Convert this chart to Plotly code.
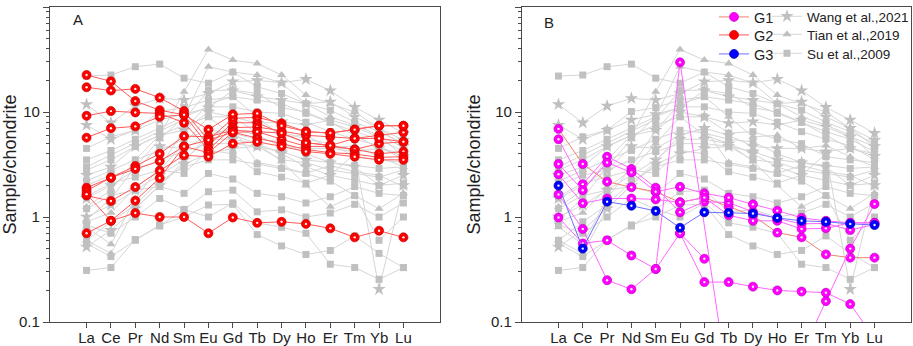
import plotly.graph_objects as go

ree = ["La", "Ce", "Pr", "Nd", "Sm", "Eu", "Gd", "Tb", "Dy", "Ho", "Er", "Tm", "Yb", "Lu"]

# Literature data (grey background, same in both panels)
wang_2021 = [
    [11.8, 7.9, 11.4, 13.5, 13.0, 15.0, 19.4, 20.0, 19.0, 20.5, 16.0, 11.1, 8.4, 6.3],
    [7.5, 5.5, 6.7, 8.4, 9.5, 11.0, 16.0, 14.0, 13.0, 12.0, 12.5, 9.0, 7.0, 5.4],
    [2.5, 3.0, 4.7, 6.0, 6.7, 10.0, 9.0, 7.8, 8.1, 7.5, 8.4, 7.2, 5.8, 4.7],
    [1.5, 2.0, 2.8, 4.7, 4.5, 6.0, 7.0, 6.0, 4.7, 4.5, 4.5, 4.2, 4.5, 3.8],
    [0.52, 0.75, 1.2, 2.0, 3.2, 4.0, 4.5, 4.7, 4.2, 3.5, 3.3, 3.0, 2.0, 2.5],
    [1.0, 1.3, 1.8, 2.5, 3.5, 5.5, 5.5, 5.0, 4.0, 3.0, 2.5, 4.0, 0.205, 2.0],
]
tian_2019 = [
    [1.25, 1.8, 3.5, 6.0, 15.6, 39.4, 31.2, 29.0, 22.5, 14.5, 12.0, 10.0, 7.0, 4.7],
    [0.94, 1.5, 3.0, 5.5, 9.0, 27.0, 24.0, 22.5, 18.8, 12.0, 9.0, 7.5, 6.0, 3.75],
    [0.8, 0.55, 1.5, 3.0, 6.7, 12.0, 14.0, 9.0, 5.8, 6.0, 4.5, 4.8, 3.75, 3.0],
    [0.6, 0.45, 1.2, 2.0, 3.4, 6.0, 7.0, 3.3, 3.0, 2.6, 3.1, 2.7, 2.5, 1.95],
    [0.9, 1.1, 1.9, 2.8, 5.0, 9.0, 6.0, 5.0, 3.4, 2.0, 1.25, 1.6, 1.2, 1.68],
]
su_2009 = [
    [22.0, 22.5, 27.0, 28.6, 21.0, 18.8, 24.0, 17.4, 15.0, 12.0, 10.4, 8.0, 6.5, 5.0],
    [4.5, 5.8, 6.7, 10.1, 11.0, 13.0, 14.0, 13.0, 12.0, 9.7, 8.0, 6.5, 5.5, 4.2],
    [3.5, 4.3, 5.5, 7.0, 9.0, 11.2, 11.2, 10.0, 9.7, 8.0, 6.5, 5.5, 4.8, 3.5],
    [2.8, 3.5, 4.7, 6.0, 7.5, 9.0, 9.0, 6.3, 6.5, 5.5, 5.0, 3.75, 3.5, 3.3],
    [2.2, 2.8, 3.5, 4.3, 5.5, 6.7, 6.3, 5.5, 5.2, 4.0, 3.3, 3.1, 2.9, 3.0],
    [2.0, 2.5, 2.8, 3.5, 4.2, 5.0, 5.0, 4.7, 3.5, 3.3, 2.8, 2.6, 2.4, 2.8],
    [1.56, 2.1, 2.4, 2.8, 2.6, 4.3, 4.0, 2.7, 2.4, 2.1, 2.5, 2.25, 2.0, 2.1],
    [1.2, 1.6, 1.8, 1.95, 1.68, 2.6, 2.3, 1.68, 1.56, 1.36, 1.56, 1.95, 1.68, 1.6],
    [0.84, 0.7, 1.0, 1.5, 1.18, 1.74, 1.8, 1.12, 1.17, 1.0, 1.09, 1.32, 1.0, 1.36],
    [0.56, 0.42, 0.6, 0.84, 1.0, 1.3, 1.32, 0.68, 0.53, 0.44, 0.48, 0.66, 0.45, 0.33],
    [0.31, 0.33, 0.61, 0.82, 1.18, 1.0, 1.36, 0.88, 0.8, 0.7, 0.355, 0.33, 0.255, 0.33],
    [0.6, 0.9, 1.3, 2.2, 3.0, 3.5, 3.5, 3.2, 2.9, 2.6, 2.2, 1.6, 0.6, 1.0],
    [3.0, 3.9, 5.0, 6.5, 8.5, 16.0, 16.2, 15.0, 11.0, 10.0, 8.0, 6.0, 4.5, 4.0],
]

# This study
g2_samples = [
    [22.5, 19.6, 12.7, 10.4, 9.4, 4.8, 7.9, 7.9, 6.3, 5.1, 4.8, 4.4, 5.0, 5.2],
    [17.2, 16.0, 16.6, 13.7, 10.2, 5.4, 8.7, 8.9, 7.8, 6.5, 6.3, 6.8, 7.4, 7.4],
    [9.2, 10.2, 9.9, 9.7, 7.9, 4.4, 7.1, 7.2, 6.6, 6.0, 5.8, 5.6, 6.0, 6.4],
    [5.7, 7.0, 7.3, 9.0, 9.4, 6.8, 9.5, 9.7, 7.4, 6.5, 6.3, 6.8, 7.4, 7.4],
    [1.9, 2.37, 3.06, 4.0, 5.9, 5.8, 6.7, 6.5, 5.5, 4.7, 4.7, 4.4, 4.0, 4.2],
    [1.78, 2.37, 2.87, 3.4, 4.7, 4.1, 6.4, 5.7, 5.0, 4.4, 4.1, 3.98, 3.7, 3.75],
    [1.6, 1.42, 1.93, 2.76, 3.87, 3.75, 5.0, 5.2, 4.7, 4.2, 4.0, 3.75, 3.5, 3.5],
    [1.65, 0.92, 1.43, 2.35, 4.7, 5.4, 6.4, 6.5, 6.3, 5.1, 4.8, 5.6, 5.6, 5.2],
    [0.70, 0.92, 1.09, 1.0, 1.0, 0.70, 0.99, 0.88, 0.90, 0.86, 0.78, 0.64, 0.74, 0.64],
]
g1_samples = [
    [6.9, 3.2, 2.17, 1.92, 1.74, 1.38, 1.53, 1.25, 1.03, 0.71, 0.64, 0.44, 0.41, 0.41],
    [5.5, 2.05, 3.76, 2.87, 1.9, 1.11, 1.40, 1.37, 1.12, 0.97, 0.86, 0.87, 0.75, 0.85],
    [3.2, 1.8, 3.3, 2.66, 1.74, 1.94, 1.68, 1.53, 1.32, 1.15, 0.98, 0.92, 0.88, 0.88],
    [2.55, 1.35, 1.5, 1.5, 1.47, 1.38, 1.53, 1.04, 0.92, 0.92, 0.77, 0.78, 0.88, 0.88],
    [1.64, 0.77, 0.25, 0.205, 0.32, 29.7, None, 0.023, 0.03, 0.03, 0.05, 0.158, 0.50, 1.33],
    [0.99, 0.56, 0.60, 0.43, 0.32, 0.70, 0.24, 0.24, 0.217, 0.20, 0.195, 0.19, 0.148, 0.07],
    [None, None, None, None, None, 0.70, 0.40, None, None, None, None, None, None, None],
]
g1_line_colors = ["#f08070", "#ff66ff", "#ff66ff", "#ff66ff", "#ff66ff", "#ff66ff", "#ff66ff"]
g3_samples = [
    [1.99, 0.50, 1.4, 1.28, 1.14, 0.79, 1.11, 1.1, 1.08, 0.98, 0.92, 0.90, 0.86, 0.84],
]

FONT = "Arial, Liberation Sans, sans-serif"
GREY_M = "#c0c0c0"
GREY_L = "#d6d6d6"

W, H = 913, 346


def fx(px):
    return px / W


def fy(py):
    return 1 - py / H


fig = go.Figure()

grey_groups = [
    ("Wang et al.,2021", wang_2021, "star", 10, "legend4"),
    ("Tian et al.,2019", tian_2019, "triangle-up", 8, "legend5"),
    ("Su et al.,2009", su_2009, "square", 7, "legend6"),
]


def add_grey(xa, ya, show_legend):
    for name, data, sym, size, lg in grey_groups:
        for i, vals in enumerate(data):
            fig.add_trace(go.Scatter(
                x=ree, y=vals, mode="lines+markers", xaxis=xa, yaxis=ya,
                line=dict(color=GREY_L, width=1),
                marker=dict(symbol=sym, size=size, color=GREY_M, line=dict(width=0)),
                name=name, legend=lg,
                showlegend=(show_legend and i == 0), connectgaps=True,
                hoverinfo="skip",
            ))


def ball_marker(fill, edge):
    return dict(symbol="circle", size=9, color=fill, line=dict(color=edge, width=0.7))


def add_balls(xa, ya, data, fill, edge, line_colors, name, lg, show_legend):
    for i, vals in enumerate(data):
        lc = line_colors[i] if isinstance(line_colors, list) else line_colors
        fig.add_trace(go.Scatter(
            x=ree, y=vals, mode="lines+markers", xaxis=xa, yaxis=ya,
            line=dict(color=lc, width=1),
            marker=ball_marker(fill, edge),
            name=name, legend=lg,
            showlegend=(show_legend and i == 0), connectgaps=True,
            hoverinfo="skip",
        ))
        fig.add_trace(go.Scatter(
            x=ree, y=vals, mode="markers", xaxis=xa, yaxis=ya,
            marker=dict(symbol="circle", size=2.4, color="rgba(255,255,255,0.95)", line=dict(width=0)),
            showlegend=False, hoverinfo="skip",
        ))


RED = ("#ff0000", "#cc0000")
MAG = ("#ff00ff", "#c400c4")
BLU = ("#0000ff", "#0000aa")

# Panel A
add_grey("x", "y", False)
add_balls("x", "y", g2_samples, *RED, "#ff5a5a", "G2", "legend2", False)

# Panel B
add_grey("x2", "y2", True)
add_balls("x2", "y2", g1_samples, *MAG, g1_line_colors, "G1", "legend", True)
fig.add_trace(go.Scatter(x=[None], y=[None], mode="lines+markers", xaxis="x2", yaxis="y2",
                         line=dict(color="#ff5a5a", width=1), marker=ball_marker(*RED),
                         name="G2", legend="legend2", showlegend=True))
add_balls("x2", "y2", g3_samples, *BLU, "#6f6fff", "G3", "legend3", True)

minor_vals = [m * 10 ** e for e in (-1, 0, 1) for m in range(2, 10)]
AX = "#4a4a4a"

yaxis_common = dict(
    type="log", range=[-1, 2], tickvals=[0.1, 1, 10, 100], ticktext=["0.1", "1", "10", "100"],
    ticks="outside", ticklen=6, tickwidth=1, tickcolor=AX,
    minor=dict(tickvals=minor_vals, ticks="outside", ticklen=3, tickcolor=AX, tickwidth=1, showgrid=False),
    showline=True, linecolor=AX, linewidth=1.3, mirror=True, showgrid=False, zeroline=False,
    tickfont=dict(family=FONT, size=15, color="#222"), automargin=False,
    title=dict(text="Sample/chondrite", font=dict(family=FONT, size=18, color="#222"), standoff=5),
)
xaxis_common = dict(
    type="category", categoryorder="array", categoryarray=ree, range=[-1.5, 14.5],
    ticks="outside", ticklen=5, tickwidth=1, tickcolor=AX, ticklabelstandoff=-3,
    showline=True, linecolor=AX, linewidth=1.3, mirror=True, showgrid=False, zeroline=False,
    tickfont=dict(family=FONT, size=15, color="#222"), automargin=False,
)


def leg(xpx, ycenter, size):
    return dict(x=fx(xpx), y=fy(ycenter - 15), xanchor="left", yanchor="top",
                bgcolor="rgba(0,0,0,0)", font=dict(family=FONT, size=size, color="#222"),
                tracegroupgap=0, itemwidth=30)


ydom = [fy(322), fy(7)]

fig.update_layout(
    width=W, height=H, margin=dict(l=0, r=0, t=0, b=0, autoexpand=False),
    paper_bgcolor="white", plot_bgcolor="white",
    font=dict(family=FONT, color="#222"),
    xaxis=dict(domain=[fx(50), fx(440)], anchor="y", **xaxis_common),
    yaxis=dict(domain=ydom, anchor="x", **yaxis_common),
    xaxis2=dict(domain=[fx(522), fx(911)], anchor="y2", **xaxis_common),
    yaxis2=dict(domain=ydom, anchor="x2", **yaxis_common),
    legend=leg(714, 16, 14.5),
    legend2=leg(714, 34, 14.5),
    legend3=leg(714, 53, 14.5),
    legend4=leg(767, 16, 13.5),
    legend5=leg(767, 34, 13.5),
    legend6=leg(767, 53, 13.5),
    annotations=[
        dict(text="A", x=fx(71), y=fy(20), xref="paper", yref="paper",
             xanchor="left", yanchor="middle", showarrow=False, font=dict(family=FONT, size=15, color="#222")),
        dict(text="B", x=fx(542), y=fy(22), xref="paper", yref="paper",
             xanchor="left", yanchor="middle", showarrow=False, font=dict(family=FONT, size=15, color="#222")),
    ],
    showlegend=True,
)

fig.write_html("out.html", config={"displayModeBar": False},
               post_script="document.body.style.margin='0';")
